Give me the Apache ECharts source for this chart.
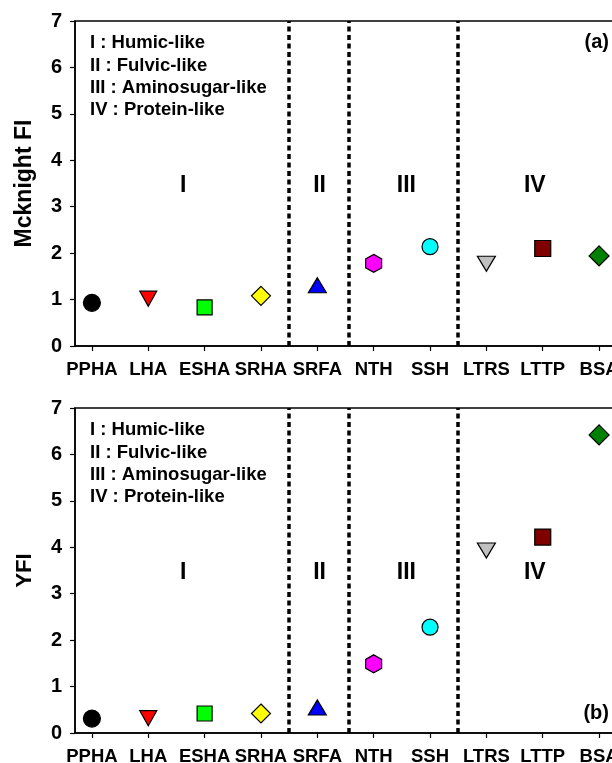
<!DOCTYPE html>
<html>
<head>
<meta charset="utf-8">
<script src="https://cdn.jsdelivr.net/npm/echarts@6/dist/echarts.min.js"></script>
<style>
html,body{margin:0;padding:0;background:#fff;}
#chart{width:612px;height:763px;}
</style>
</head>
<body>
<div id="chart"></div>
<script>
const categories = ['PPHA','LHA','ESHA','SRHA','SRFA','NTH','SSH','LTRS','LTTP','BSA'];
const mcknightFI = [0.93,1.02,0.83,1.08,1.31,1.78,2.14,1.77,2.10,1.94];
const yfi = [0.31,0.32,0.42,0.42,0.55,1.49,2.28,3.93,4.22,6.42];
const regionLabels = ['I','II','III','IV'];
const regionX = [2.62,5.04,6.58,8.86];
const regionY = [3.45,3.45,3.45,3.45];
const dividers = [4.5,5.55,7.5];
const legendLines = ['I : Humic-like','II : Fulvic-like','III : Aminosugar-like','IV : Protein-like'];
const panelTags = ['(a)','(b)'];
const yNames = ['Mcknight FI','YFI'];

const hexPath = 'path://M0.866,0 L1.732,0.5 L1.732,1.5 L0.866,2 L0,1.5 L0,0.5 Z';
const markerStyles = [
  {symbol:'circle', size:17, rotate:0, color:'#000000'},
  {symbol:'triangle', size:[17,15], rotate:180, color:'#ff0000'},
  {symbol:'rect', size:15, rotate:0, color:'#00ff00'},
  {symbol:'diamond', size:19, rotate:0, color:'#ffff00'},
  {symbol:'triangle', size:[18,15], rotate:0, color:'#0000ff'},
  {symbol:hexPath, size:[16,18], rotate:0, color:'#ff00ff'},
  {symbol:'circle', size:16, rotate:0, color:'#00ffff'},
  {symbol:'triangle', size:[18,15], rotate:180, color:'#c0c0c0'},
  {symbol:'rect', size:16, rotate:0, color:'#800000'},
  {symbol:'diamond', size:20, rotate:0, color:'#008000'}
];

const FONT = 'Liberation Sans, Arial, sans-serif';
const positions = categories.map((c,i)=>i+1);
const grids = [
  {left:75, top:21, width:541, height:325},
  {left:75, top:408, width:541, height:325}
];

function pointData(values){
  return values.map((v,i)=>({
    value:[positions[i], v],
    symbol:markerStyles[i].symbol,
    symbolSize:markerStyles[i].size,
    symbolRotate:markerStyles[i].rotate,
    itemStyle:{color:markerStyles[i].color, borderColor:'#000', borderWidth:1.2, opacity:1}
  }));
}

const xAxes = grids.map((g,k)=>({
  type:'value', gridIndex:k, min:0.7, max:10.3,
  axisLine:{show:true, lineStyle:{color:'#000', width:1.5}},
  axisTick:{show:true, inside:false, length:5, customValues:positions, lineStyle:{color:'#000', width:1.2}},
  axisLabel:{show:true, customValues:positions, margin:14, color:'#000', fontFamily:FONT, fontWeight:'bold', fontSize:18.5,
    hideOverlap:false, formatter:(v)=>categories[Math.round(v)-1] || ''},
  splitLine:{show:false}
}));

const yAxes = grids.map((g,k)=>({
  type:'value', gridIndex:k, min:0, max:7, interval:1,
  name:yNames[k], nameLocation:'middle', nameGap:39, nameRotate:90,
  nameTextStyle:{color:'#000', fontFamily:FONT, fontWeight:'bold', fontSize:k===0?23:22},
  axisLine:{show:true, lineStyle:{color:'#000', width:1.5}},
  axisTick:{show:true, inside:false, length:5, lineStyle:{color:'#000', width:1.2}},
  axisLabel:{color:'#000', fontFamily:FONT, fontWeight:'bold', fontSize:20, margin:13},
  splitLine:{show:false}
}));

const series = [];
[mcknightFI, yfi].forEach((vals,k)=>{
  series.push({
    type:'scatter', xAxisIndex:k, yAxisIndex:k, z:5,
    itemStyle:{opacity:1},
    emphasis:{disabled:true},
    data:pointData(vals),
    markLine:{
      silent:true, symbol:['none','none'], label:{show:false},
      lineStyle:{color:'#000', width:3.5, type:[5,3.5], cap:'butt', opacity:1},
      data:dividers.map(d=>({xAxis:d}))
    }
  });
  series.push({
    type:'scatter', xAxisIndex:k, yAxisIndex:k, symbolSize:0, silent:true, z:4,
    itemStyle:{opacity:1},
    data:regionLabels.map((t,i)=>({name:t, value:[regionX[i], regionY[i]]})),
    label:{show:true, position:'inside', formatter:(p)=>p.name, color:'#000', opacity:1,
      fontFamily:FONT, fontWeight:'bold', fontSize:23}
  });
});

const legendTops = [32, 419];
const tagYs = [42, 713];
const graphic = [];
legendTops.forEach((t,k)=>{
  graphic.push({
    type:'text', left:90, top:t, silent:true,
    style:{text:legendLines.join('\n'), fill:'#000', font:'bold 18.5px '+FONT, lineHeight:22.4}
  });
  graphic.push({
    type:'text', x:609, y:tagYs[k], silent:true,
    style:{text:panelTags[k], fill:'#000', font:'bold 20px '+FONT, textAlign:'right', textVerticalAlign:'middle'}
  });
});

const chart = echarts.init(document.getElementById('chart'), null, {renderer:'canvas'});
chart.setOption({
  animation:false,
  backgroundColor:'#fff',
  grid:grids.map(g=>Object.assign({show:true, borderColor:'#000', borderWidth:1.5, backgroundColor:'transparent', outerBoundsMode:'none', containLabel:false}, g)),
  xAxis:xAxes,
  yAxis:yAxes,
  series:series,
  graphic:graphic
});
</script>
</body>
</html>
